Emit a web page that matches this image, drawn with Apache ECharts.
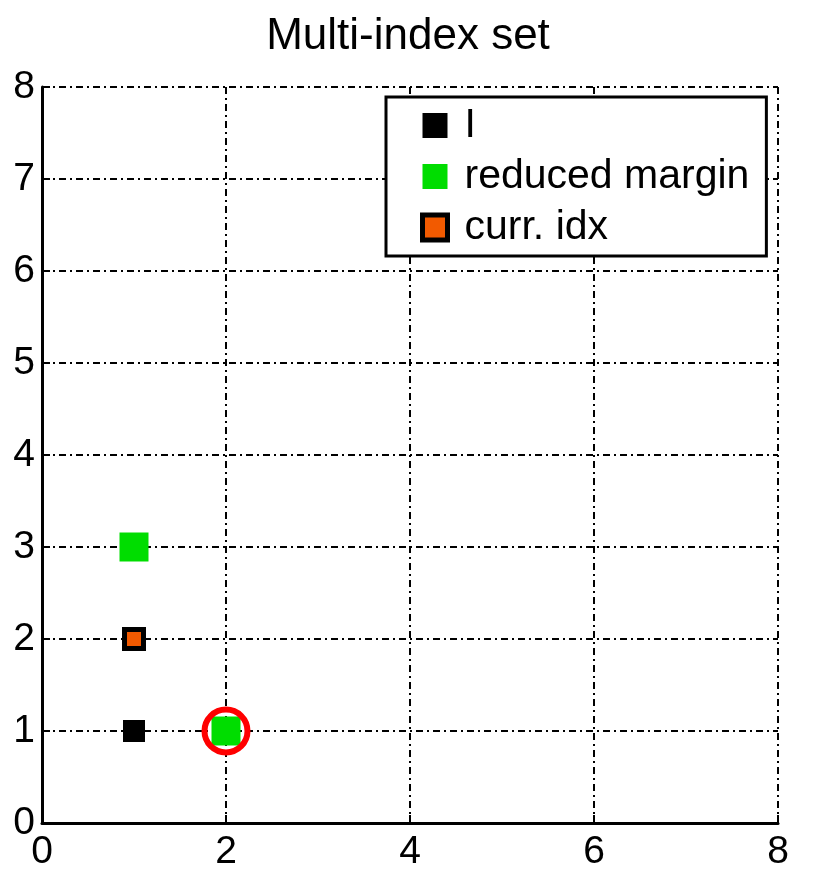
<!DOCTYPE html>
<html><head><meta charset="utf-8">
<script src="https://cdn.jsdelivr.net/npm/echarts@6/dist/echarts.min.js"></script>
<style>html,body{margin:0;padding:0;background:#fff}#c{width:830px;height:887px}</style>
</head><body><div id="c"></div>
<script>
const titleText = 'Multi-index set';
const seriesNames = ['I', 'reduced margin', 'curr. idx'];
const setI = [[1, 1], [1, 2]];
const reducedMargin = [[1, 3], [2, 1]];
const currIdx = [[1, 2]];
const highlight = [[2, 1]];
const xTicks = [0, 2, 4, 6, 8];
const yTicks = [0, 1, 2, 3, 4, 5, 6, 7, 8];

const chart = echarts.init(document.getElementById('c'));
const font = 'Liberation Sans';
const gridLine = { show: true, lineStyle: { color: '#000', width: 2, type: [7, 4, 2, 4] } };
chart.setOption({
  animation: false,
  backgroundColor: '#fff',
  title: { text: titleText, left: 403, textAlign: 'center', top: 10,
    textStyle: { fontFamily: font, fontWeight: 'normal', fontSize: 44, color: '#000' } },
  grid: { left: 42, right: 52, top: 87, bottom: 64 },
  legend: {
    left: 386, top: 97, orient: 'vertical',
    padding: [8, 17, 8, 34],
    itemGap: 10,
    itemWidth: 25, itemHeight: 25,
    backgroundColor: '#fff', borderColor: '#000', borderWidth: 3,
    textStyle: { fontFamily: font, fontSize: 41, color: '#000', padding: [0, 0, 0, 12] },
    data: [
      { name: seriesNames[0], icon: 'rect', itemStyle: { color: '#000' } },
      { name: seriesNames[1], icon: 'rect', itemStyle: { color: '#00dd00' } },
      { name: seriesNames[2], icon: 'rect', itemStyle: { color: '#f25a00', borderColor: '#000', borderWidth: 5 } }
    ]
  },
  xAxis: {
    type: 'value', min: xTicks[0], max: xTicks[xTicks.length - 1], interval: 2,
    axisLine: { lineStyle: { color: '#000', width: 3 } },
    axisTick: { inside: true, length: 8, lineStyle: { color: '#000', width: 2 } },
    axisLabel: { fontFamily: font, fontSize: 39, color: '#000', margin: 10 },
    splitLine: gridLine
  },
  yAxis: {
    type: 'value', min: yTicks[0], max: yTicks[yTicks.length - 1], interval: 1,
    axisLine: { show: true, lineStyle: { color: '#000', width: 3 } },
    axisTick: { show: true, inside: true, length: 8, lineStyle: { color: '#000', width: 2 } },
    axisLabel: { fontFamily: font, fontSize: 39, color: '#000', margin: 7 },
    splitLine: gridLine
  },
  series: [
    { name: seriesNames[0], type: 'scatter', data: setI, symbol: 'rect', symbolSize: 22,
      itemStyle: { color: '#000', opacity: 1 }, z: 2 },
    { name: seriesNames[1], type: 'scatter', data: reducedMargin, symbol: 'rect', symbolSize: 29,
      itemStyle: { color: '#00dd00', opacity: 1 }, z: 3 },
    { name: seriesNames[2], type: 'scatter', data: currIdx, symbol: 'rect', symbolSize: 19,
      itemStyle: { color: '#f25a00', borderColor: '#000', borderWidth: 5, opacity: 1 }, z: 4 },
    { name: 'highlight', type: 'scatter', data: highlight, symbol: 'circle', symbolSize: 43,
      itemStyle: { color: 'rgba(0,0,0,0)', borderColor: '#ff0000', borderWidth: 6, opacity: 1 }, z: 5 }
  ]
});
</script></body></html>
